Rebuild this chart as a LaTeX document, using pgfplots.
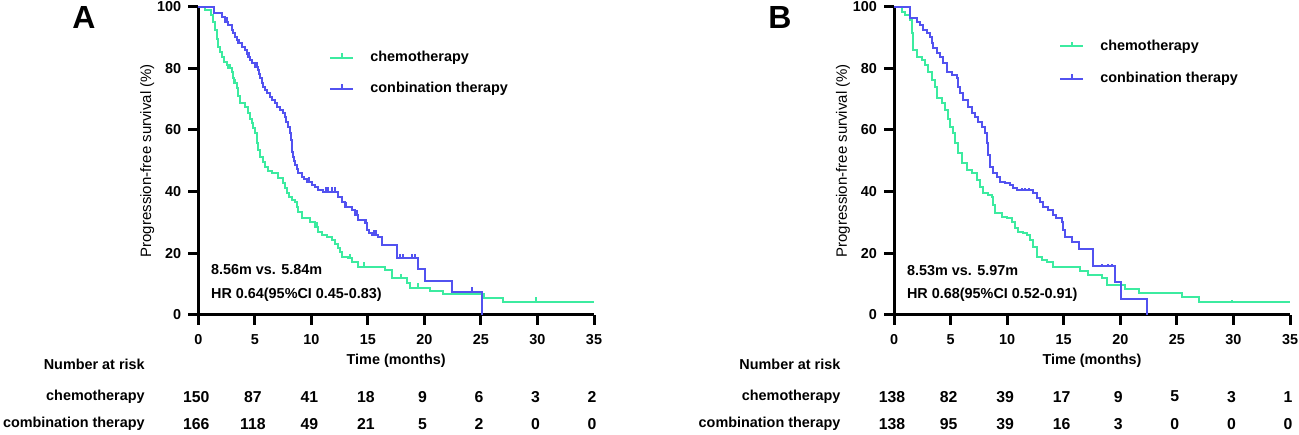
\documentclass[border=0pt]{standalone}
\usepackage{fontspec}
\setmainfont{Liberation Sans}
\usepackage{pgfplots}
\pgfplotsset{compat=1.18}
\definecolor{chemo}{RGB}{60,235,160}
\definecolor{combo}{RGB}{82,82,240}
\pgfdeclareplotmark{cens}{\pgfpathmoveto{\pgfpointorigin}\pgfpathlineto{\pgfpoint{0pt}{\pgfplotmarksize}}\pgfusepathqstroke}
\newcommand{\tf}{\fontsize{7.2}{8.6}\selectfont\bfseries}
\newcommand{\nf}{\fontsize{7.9}{9}\selectfont\bfseries}
\pgfplotsset{kmstyle/.style={
  scale only axis, height=154pt,
  xmin=0, xmax=35, ymin=0, ymax=100,
  axis x line*=bottom, axis y line*=left,
  axis line style={line width=1.5pt},
  xtick={0,5,...,35}, ytick={0,20,...,100},
  tick align=outside, major tick length=5pt,
  every tick/.style={line width=1.5pt, black},
  tick label style={font=\tf},
  xticklabel style={yshift=-1.5pt},
  /pgf/number format/assume math mode=true,
  xlabel={Time (months)},
  ylabel={Progression-free survival (\%)},
  xlabel style={font=\tf, at={(axis description cs:0.5,-0.150)}, anchor=center},
  ylabel style={font=\fontsize{7.5}{9}\selectfont, at={(axis description cs:-0.129,0.5)}, anchor=center},
  clip=false,
  legend image code/.code={\draw[#1] (0pt,0pt) -- (11.5pt,0pt); \draw[#1] (5.75pt,0pt) -- (5.75pt,2.3pt);},
  legend style={draw=none, fill=none, font=\tf, inner sep=0pt, cells={anchor=west}, /tikz/every odd column/.append style={column sep=6pt}},
  km/.style={const plot, line width=1pt, mark=none},
  cn/.style={only marks, mark=cens, mark size=2.3pt, line width=1pt, forget plot},
  risk/.style={forget plot, draw=none, mark=none, nodes near coords, point meta=explicit symbolic,
     nodes near coords style={anchor=center, font=\nf, black, xshift=-1pt}},
}}
\begin{document}
\begin{tikzpicture}
\useasboundingbox (0,0) rectangle (649.5pt,217pt);
\node[font=\fontsize{16}{18}\selectfont\bfseries] at (42pt,208.5pt) {A};
\node[font=\fontsize{16}{18}\selectfont\bfseries] at (390pt,208.5pt) {B};
% ---------------- Panel A ----------------
\begin{axis}[kmstyle, width=197.85pt, at={(99.15pt,59.65pt)}, anchor=south west,
  legend style={at={(axis cs:11.56,78.4)}, anchor=west, row sep=4.6pt}]
\addplot[km, chemo] table {
0 100
0.59 98.9
1.12 97.3
1.3 95.0
1.47 92.4
1.62 89.6
1.77 87.0
1.92 85.3
2.06 83.8
2.3 82.2
2.51 81.1
2.65 80.0
2.95 78.9
3.05 77.0
3.18 75.1
3.39 73.5
3.54 71.0
3.69 68.6
4.13 67.5
4.42 65.4
4.6 63.6
4.72 62.1
4.87 60.5
5.01 58.9
5.16 55.6
5.3 53.5
5.46 51.3
5.7 49.5
5.90 48.1
6.2 46.8
6.49 45.9
7.08 44.3
7.52 42.6
7.67 41.0
7.82 39.4
8.0 38.3
8.26 37.2
8.55 36.7
8.7 35.0
8.85 33.4
9.14 31.3
9.88 30.2
10.32 28.6
10.61 26.9
10.91 25.9
11.35 25.3
11.79 24.2
12.1 23.0
12.38 21.5
12.55 20.2
12.68 18.8
13.27 18.3
13.56 17.2
14.15 15.6
16.51 14.5
17.1 11.8
18.43 10.2
18.72 8.8
20.49 7.7
21.6 6.7
25.3 5.5
26.98 4.1
35 4.1
};
\addlegendentry{chemotherapy}
\addplot[km, combo] table {
0 100
1.42 97.8
2.06 96.8
2.36 95.1
2.65 94.0
2.95 92.4
3.1 91.3
3.24 90.3
3.4 89.2
3.54 88.1
3.83 87.0
4.13 85.9
4.3 84.8
4.42 83.8
4.6 82.7
4.72 81.6
5.01 80.5
5.31 79.4
5.4 78.0
5.46 76.7
5.6 75.3
5.75 74.0
5.9 73.0
6.05 71.9
6.34 70.8
6.55 69.7
6.78 68.6
7.0 67.5
7.22 66.5
7.45 65.4
7.67 64.3
7.8 62.7
7.96 61.0
8.11 58.9
8.2 56.7
8.26 54.5
8.33 52.9
8.40 51.3
8.48 50.0
8.55 48.6
8.7 47.2
8.85 45.9
9.14 44.8
9.35 44.0
9.58 43.2
10.03 42.1
10.3 41.3
10.61 40.5
11.06 39.9
12.38 38.3
12.68 36.7
12.97 35.1
13.56 34.0
13.86 32.4
14.15 30.7
14.74 29.7
14.89 27.5
15.1 26.5
15.33 25.9
15.92 25.3
16.22 22.6
17.6 18.3
19.46 14.7
20.05 11.0
22.41 7.4
25.06 0
};
\addlegendentry{conbination therapy}
\addplot[cn, chemo] table {
2.8 80.0
3.25 75.1
7.5 42.6
10.5 28.6
13.4 18.3
14.7 15.6
17.9 11.8
19.4 8.8
29.85 4.1
};
\addplot[cn, combo] table {
2.06 96.8
2.5 95.1
3.0 92.4
3.6 88.1
4.5 83.8
5.2 80.5
6.1 71.9
7.0 67.5
9.8 43.2
11.3 39.9
11.5 39.9
11.8 39.9
12.05 39.9
13.1 35.1
14.0 32.4
14.8 29.7
15.5 25.9
15.7 25.9
17.84 18.3
18.07 18.3
18.87 18.3
19.17 18.3
24.2 7.4
};
\addplot[risk] table[meta=n] {
x y n
0 -26.6 150
5 -26.6 87
10 -26.6 41
15 -26.6 18
20 -26.6 9
25 -26.6 6
30 -26.6 3
35 -26.6 2
};
\addplot[risk] table[meta=n] {
x y n
0 -35.5 166
5 -35.5 118
10 -35.5 49
15 -35.5 21
20 -35.5 5
25 -35.5 2
30 -35.5 0
35 -35.5 0
};
\node[anchor=west, inner sep=0pt, font=\tf] at (axis cs:1.10,14.7) {8.56m vs. 5.84m};
\node[anchor=west, inner sep=0pt, font=\tf] at (axis cs:1.10,6.4) {HR 0.64(95\%CI 0.45-0.83)};
\node[anchor=east, inner sep=0pt, font=\tf] at (axis cs:-4.71,-16.0) {Number at risk};
\node[anchor=east, inner sep=0pt, font=\tf] at (axis cs:-4.71,-26.6) {chemotherapy};
\node[anchor=east, inner sep=0pt, font=\tf] at (axis cs:-4.71,-35.5) {combination therapy};
\end{axis}
% ---------------- Panel B ----------------
\begin{axis}[kmstyle, width=198pt, at={(447pt,59.65pt)}, anchor=south west,
  legend style={at={(axis cs:14.58,81.8)}, anchor=west, row sep=5.6pt}]
\addplot[km, chemo] table {
0 100
0.68 98.4
0.97 97.3
1.41 95.7
1.56 91.3
1.71 85.9
2.00 83.8
2.45 82.7
2.74 81.1
3.03 78.9
3.33 76.2
3.62 74.0
3.77 70.2
4.21 68.6
4.51 66.4
4.80 63.7
4.95 61.0
5.24 58.9
5.39 55.6
5.69 52.4
5.98 49.1
6.42 46.9
6.86 45.9
7.31 43.7
7.60 41.5
7.90 39.4
8.34 38.8
8.63 38.3
8.78 35.5
8.93 32.9
9.52 31.8
9.96 31.3
10.40 30.2
10.69 28.0
10.99 26.9
11.43 26.4
11.73 25.9
12.02 24.2
12.31 22.1
12.61 18.8
13.05 17.7
13.49 17.2
14.08 15.4
16.44 14.3
17.18 12.9
18.36 11.8
18.80 9.6
20.42 8.2
21.68 7.1
25.43 5.8
26.99 4.2
35 4.2
};
\addlegendentry{chemotherapy}
\addplot[km, combo] table {
0 100
1.41 96.2
2.00 95.1
2.30 94.0
2.59 92.4
2.89 91.3
3.18 90.3
3.33 88.1
3.48 86.5
3.77 84.9
4.07 83.8
4.36 81.6
4.65 78.9
5.10 77.8
5.54 76.7
5.69 74.0
5.83 71.9
6.13 69.7
6.57 67.5
6.86 65.4
7.16 64.3
7.45 62.7
7.75 61.0
8.04 58.9
8.19 55.6
8.34 51.9
8.49 48.1
8.78 45.9
9.08 44.8
9.37 43.2
9.81 42.6
10.25 42.1
10.55 41.0
10.9 40.5
12.31 39.4
12.61 37.8
12.90 36.7
13.20 35.1
13.64 34.0
14.08 32.4
14.3 31.3
14.82 30.2
14.97 27.5
15.11 25.3
15.7 23.7
16.35 21.2
17.62 15.8
19.53 10.5
20.03 5.1
22.39 0
};
\addlegendentry{conbination therapy}
\addplot[cn, chemo, mark size=1pt] table {
29.85 4.2
};
\addplot[cn, combo, mark size=1pt] table {
11.3 40.5
11.6 40.5
11.9 40.5
18.36 15.8
18.95 15.8
19.24 15.8
};
\addplot[risk] table[meta=n] {
x y n
0 -26.6 138
5 -26.6 82
10 -26.6 39
15 -26.6 17
20 -26.6 9
25 -26.6 5
30 -26.6 3
35 -26.6 1
};
\addplot[risk] table[meta=n] {
x y n
0 -35.5 138
5 -35.5 95
10 -35.5 39
15 -35.5 16
20 -35.5 3
25 -35.5 0
30 -35.5 0
35 -35.5 0
};
\node[anchor=west, inner sep=0pt, font=\tf] at (axis cs:1.12,14.3) {8.53m vs. 5.97m};
\node[anchor=west, inner sep=0pt, font=\tf] at (axis cs:1.12,6.4) {HR 0.68(95\%CI 0.52-0.91)};
\node[anchor=east, inner sep=0pt, font=\tf] at (axis cs:-4.71,-16.0) {Number at risk};
\node[anchor=east, inner sep=0pt, font=\tf] at (axis cs:-4.71,-26.6) {chemotherapy};
\node[anchor=east, inner sep=0pt, font=\tf] at (axis cs:-4.71,-35.5) {combination therapy};
\end{axis}
\end{tikzpicture}
\end{document}
